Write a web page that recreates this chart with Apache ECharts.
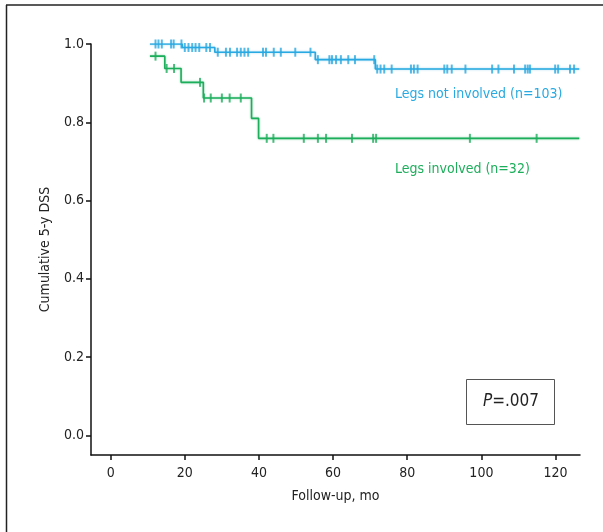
<!DOCTYPE html>
<html>
<head>
<meta charset="utf-8">
<script src="https://cdn.jsdelivr.net/npm/echarts@6/dist/echarts.min.js"></script>
<style>
html,body{margin:0;padding:0;background:#fff;}
#chart{width:603px;height:532px;}
</style>
</head>
<body>
<div id="chart"></div>
<script>
// Kaplan-Meier step data (time in months, survival)
const blueTimes = [10.6, 19.3, 28.1, 55.2, 71.4, 126.4];
const blueSurv  = [1.0, 0.991, 0.979, 0.960, 0.936, 0.936];
const blueCensor = [12.1, 12.9, 13.8, 16.3, 17.0, 19.1, 20.0, 21.0, 22.0, 22.9, 23.9, 25.8, 26.8,
  28.9, 31.1, 32.2, 34.1, 35.1, 36.1, 37.1, 41.1, 41.9, 44.0, 45.9, 49.8, 53.9,
  55.9, 59.0, 59.7, 60.8, 62.1, 64.1, 65.9, 71.1,
  71.9, 72.8, 73.8, 75.8, 81.0, 81.8, 82.8, 90.0, 90.8, 92.0, 95.7, 102.9, 104.6,
  108.8, 111.8, 112.5, 113.1, 119.9, 120.7, 123.9, 125.0];

const greenTimes = [10.6, 14.6, 19.0, 25.0, 38.0, 39.9, 126.4];
const greenSurv  = [0.969, 0.9375, 0.902, 0.862, 0.810, 0.759, 0.759];
const greenCensor = [12.1, 15.1, 17.1, 24.1, 25.2, 27.0, 30.0, 32.1, 35.1, 42.1, 43.9, 52.1,
  55.9, 58.1, 65.1, 70.8, 71.6, 96.9, 114.9];

const xTicks = [0, 20, 40, 60, 80, 100, 120];
const yTicks = [0, 0.2, 0.4, 0.6, 0.8, 1.0];

const blueName = 'Legs not involved (n=103)';
const greenName = 'Legs involved (n=32)';
const pText = '.007';

const BLUE = '#29a9e1';
const GREEN = '#1dae5c';
const FONT = "'Liberation Sans Narrow','DejaVu Sans Condensed','Roboto Condensed',Arial,sans-serif";

function survAt(times, surv, t) {
  let v = surv[0];
  for (let i = 0; i < times.length; i++) { if (times[i] <= t) v = surv[i]; }
  return v;
}
const blueLine = blueTimes.map((t, i) => [t, blueSurv[i]]);
const greenLine = greenTimes.map((t, i) => [t, greenSurv[i]]);
const blueMarks = blueCensor.map(t => [t, survAt(blueTimes, blueSurv, t)]);
const greenMarks = greenCensor.map(t => [t, survAt(greenTimes, greenSurv, t)]);

const chart = echarts.init(document.getElementById('chart'), null, {renderer: 'canvas'});
const axisLine = {show: true, onZero: false, lineStyle: {color: '#111', width: 1.5}};
chart.setOption({
  animation: false,
  backgroundColor: '#fff',
  grid: {left: 91, top: 44, right: 23, bottom: 77, containLabel: false},
  xAxis: {
    type: 'value', min: -5.3, max: 126.6,
    axisLine: axisLine,
    axisTick: {show: true, length: 5, inside: false, customValues: xTicks, lineStyle: {color: '#111', width: 1.5}},
    axisLabel: {customValues: xTicks, margin: 11, fontSize: 14, color: '#222', fontFamily: FONT},
    splitLine: {show: false},
    name: 'Follow-up, mo', nameLocation: 'middle', nameGap: 34,
    nameTextStyle: {fontSize: 14, color: '#222', fontFamily: FONT}
  },
  yAxis: {
    type: 'value', min: -0.05, max: 1.0,
    axisLine: axisLine,
    axisTick: {show: true, length: 5, customValues: yTicks, lineStyle: {color: '#111', width: 1.5}},
    axisLabel: {customValues: yTicks, margin: 7, fontSize: 14, color: '#222', fontFamily: FONT,
      formatter: v => v.toFixed(1)},
    splitLine: {show: false},
    name: 'Cumulative 5-y DSS', nameLocation: 'middle', nameGap: 39,
    nameTextStyle: {fontSize: 14, color: '#222', fontFamily: FONT}
  },
  series: [
    {type: 'line', data: greenLine, step: 'end', symbol: 'none',
     lineStyle: {color: GREEN, width: 1.6, shadowColor: 'rgba(29,174,92,0.5)', shadowBlur: 2}},
    {type: 'line', data: blueLine, step: 'end', symbol: 'none',
     lineStyle: {color: BLUE, width: 1.6, shadowColor: 'rgba(41,169,225,0.5)', shadowBlur: 2}},
    {type: 'scatter', data: greenMarks, symbol: 'rect', symbolSize: [2, 9],
     itemStyle: {color: GREEN}},
    {type: 'scatter', data: blueMarks, symbol: 'rect', symbolSize: [2, 9],
     itemStyle: {color: BLUE}}
  ],
  graphic: [
    {type: 'line', shape: {x1: 6, y1: 5, x2: 603, y2: 5}, style: {stroke: '#222', lineWidth: 1.5}},
    {type: 'line', shape: {x1: 6.5, y1: 5, x2: 6.5, y2: 532}, style: {stroke: '#222', lineWidth: 1.5}},
    {type: 'text', left: 395, top: 87, style: {text: blueName, fill: BLUE, font: '14px ' + FONT}},
    {type: 'text', left: 395, top: 162, style: {text: greenName, fill: GREEN, font: '14px ' + FONT}},
    {type: 'rect', shape: {x: 466.5, y: 379.5, width: 88, height: 45},
     style: {fill: '#fff', stroke: '#555', lineWidth: 1}},
    {type: 'text', x: 511, y: 402,
     style: {text: '{i|P}{n|=' + pText + '}', align: 'center', verticalAlign: 'middle',
       rich: {i: {fontSize: 17, fontStyle: 'italic', fontFamily: FONT, fill: '#222'},
              n: {fontSize: 17, fontFamily: FONT, fill: '#222'}}}}
  ]
});
</script>
</body>
</html>
